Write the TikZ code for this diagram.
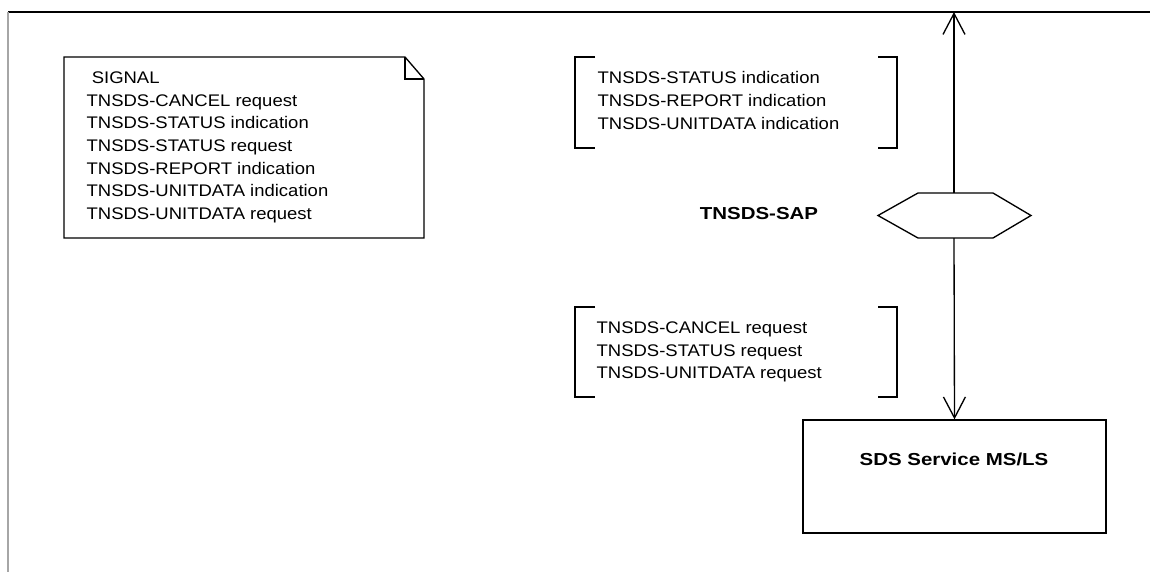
\documentclass[tikz,border=0pt]{standalone}
\usepackage{fontspec}
\setmainfont{Liberation Sans}[FakeStretch=1.1]
\newfontfamily\sapbold{Liberation Sans Bold}[FakeStretch=1.18]
\usetikzlibrary{arrows.meta,positioning}

\begin{document}
\begin{tikzpicture}[x=0.75pt, y=-0.75pt, line width=1pt,
    msgtext/.style={font=\fontsize{12.6}{17}\selectfont, align=left, inner sep=0pt, anchor=north west},
    boldtext/.style={font=\fontsize{13}{15}\sapbold, inner sep=0pt},
    sapline/.style={-{Straight Barb[length=15.75pt, width=16.5pt, line width=1pt]}}]
    \useasboundingbox (0, 0) rectangle (1150, 572);

    % frame lines
    \draw (8, 12) -- (1150, 12);
    \draw[color=gray!70] (8, 12) -- (8, 572);

    % signal note
    \draw (64, 57) -- (405, 57) -- (424, 79) -- (424, 238) -- (64, 238) -- cycle;
    \draw (405, 57) -- (405, 79) -- (424, 79);
    \node[msgtext] (signals) at (86, 71) {\ SIGNAL\\TNSDS-CANCEL request\\TNSDS-STATUS indication\\TNSDS-STATUS request\\TNSDS-REPORT indication\\TNSDS-UNITDATA indication\\TNSDS-UNITDATA request};

    % upward primitives
    \draw (595, 57) -- (575, 57) -- (575, 148) -- (595, 148);
    \draw (878, 57) -- (897, 57) -- (897, 148) -- (878, 148);
    \node[msgtext] (indications) at (597, 71) {TNSDS-STATUS indication\\TNSDS-REPORT indication\\TNSDS-UNITDATA indication};

    % downward primitives
    \draw (595, 307) -- (575, 307) -- (575, 397) -- (595, 397);
    \draw (878, 307) -- (897, 307) -- (897, 397) -- (878, 397);
    \node[msgtext] (requests) at (596, 321) {TNSDS-CANCEL request\\TNSDS-STATUS request\\TNSDS-UNITDATA request};

    % service access point
    \draw (878, 215.5) -- (918, 193) -- (993, 193) -- (1031, 215.5) -- (993, 238) -- (918, 238) -- cycle;
    \coordinate (saptop) at (954, 193);
    \coordinate (sapbottom) at (954, 238);
    \coordinate (upper) at (954, 12);
    \node[boldtext] (sapname) at (759, 214) {TNSDS-SAP};

    % SDS service entity
    \node[draw, minimum width=227.25pt, minimum height=84.75pt, inner sep=0pt] (service) at (954.5, 476.5) {};
    \node[boldtext] (servicename) at (954, 459.5) {SDS Service MS/LS};

    \draw[sapline] (saptop) -- (upper);
    \draw[sapline] (sapbottom) -- (service.north);
\end{tikzpicture}
\end{document}
